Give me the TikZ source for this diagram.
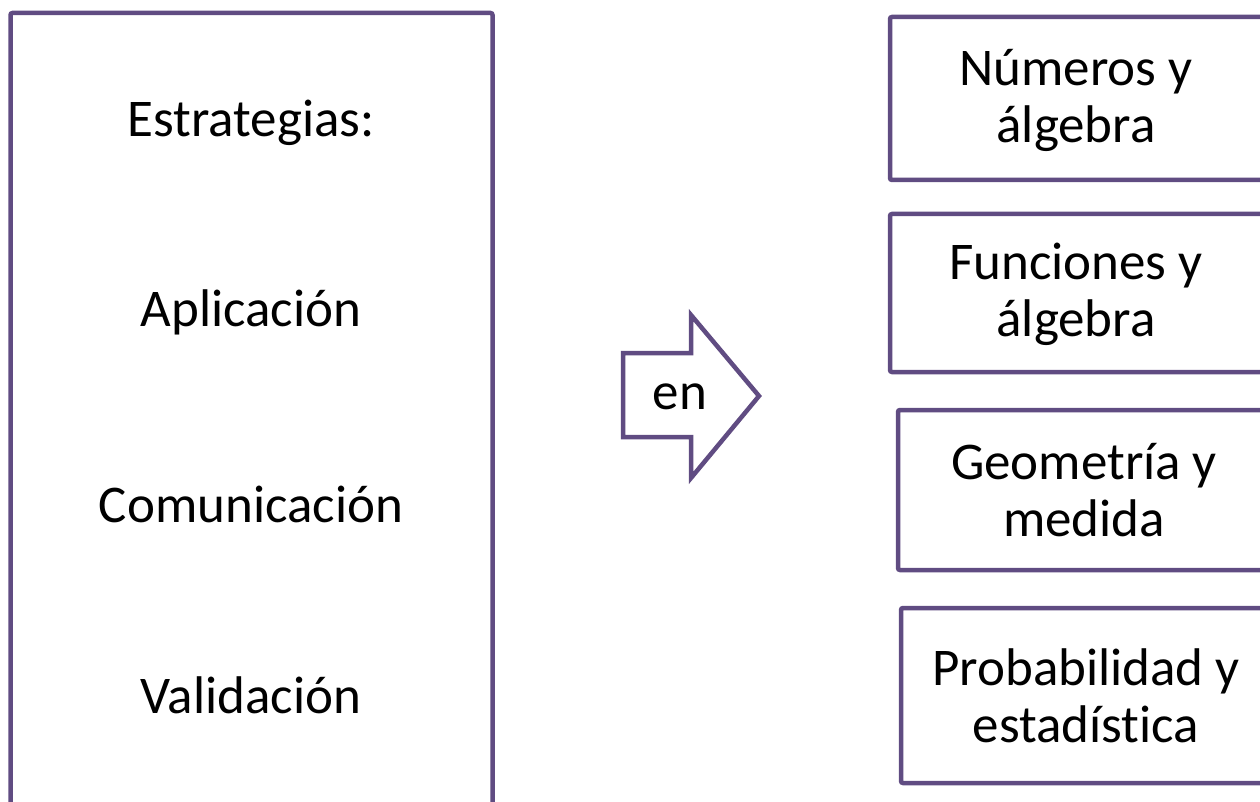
\documentclass[tikz,border=0pt]{standalone}
\usepackage{fontspec}
\setmainfont{Carlito}[Ligatures=NoCommon]
\definecolor{frame}{RGB}{96,76,130}
\begin{document}
\begin{tikzpicture}[x=1pt,y=-1pt,
  boxframe/.style={draw=frame,line width=4.5pt,rounded corners=2pt,fill=white},
  lbl/.style={font=\fontsize{53}{57}\selectfont,align=center,text=black,inner sep=0pt}]
\useasboundingbox (0,0) rectangle (1260,802);
\clip (0,0) rectangle (1260,802);
% left panel
\draw[boxframe] (10.5,13) rectangle (492.5,860);
\node[lbl] (estr) at (251,123) {Estrategias:};
\node[lbl] (apl) at (251,312) {Aplicación};
\node[lbl] (com) at (251,504) {Comunicación};
\node[lbl] (val) at (251,695) {Validación};
% block arrow
\draw[draw=frame,line width=4.5pt,fill=white,line join=miter]
  (623,353) -- (691,353) -- (691,315) -- (759,396) -- (691,478) -- (691,437) -- (623,437) -- cycle;
\node[lbl] (en) at (680,397) {en};
% right boxes
\draw[boxframe] (890,17) rectangle (1300,180);
\node[lbl] (b1) at (1076,100) {Números y\\álgebra};
\draw[boxframe] (890,214) rectangle (1300,372);
\node[lbl] (b2) at (1076,294) {Funciones y\\álgebra};
\draw[boxframe] (898,410) rectangle (1300,570);
\node[lbl] (b3) at (1084,490) {Geometría y\\medida};
\draw[boxframe] (901,608) rectangle (1300,783);
\node[lbl] (b4) at (1086,696) {Probabilidad y\\estadística};
\end{tikzpicture}
\end{document}
